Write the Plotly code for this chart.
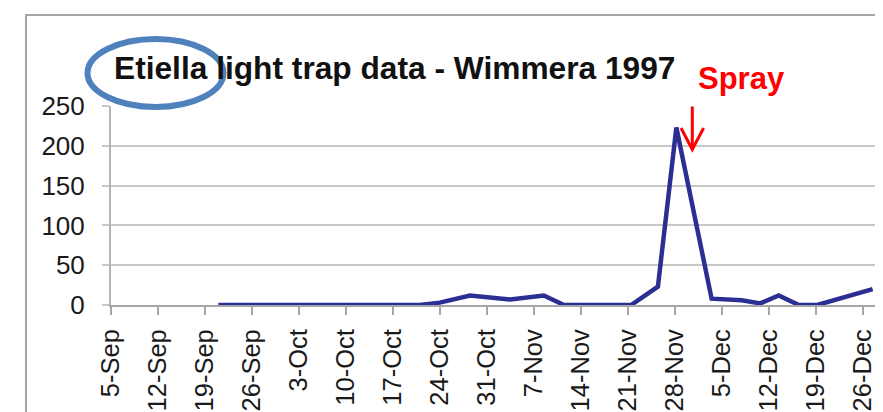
import plotly.graph_objects as go

# ---- data ----
trap_dates = ["1997-09-21", "1997-09-28", "1997-10-05", "1997-10-12", "1997-10-21",
              "1997-10-24", "1997-10-28 12:00", "1997-11-03 12:00", "1997-11-08 12:00",
              "1997-11-11 12:00", "1997-11-21 12:00", "1997-11-25 12:00", "1997-11-28 06:00",
              "1997-12-03 12:00", "1997-12-08", "1997-12-10 18:00", "1997-12-13 12:00",
              "1997-12-16 12:00", "1997-12-19 06:00", "1997-12-27 12:00"]
moth_counts = [0, 0, 0, 0, 0, 3, 12, 7, 12, 0, 0, 23, 223, 8, 6, 2, 12, 0, 0, 20]

tick_dates = ["1997-09-05", "1997-09-12", "1997-09-19", "1997-09-26", "1997-10-03",
              "1997-10-10", "1997-10-17", "1997-10-24", "1997-10-31", "1997-11-07",
              "1997-11-14", "1997-11-21", "1997-11-28", "1997-12-05", "1997-12-12",
              "1997-12-19", "1997-12-26"]
tick_labels = ["5-Sep", "12-Sep", "19-Sep", "26-Sep", "3-Oct", "10-Oct", "17-Oct",
               "24-Oct", "31-Oct", "7-Nov", "14-Nov", "21-Nov", "28-Nov", "5-Dec",
               "12-Dec", "19-Dec", "26-Dec"]

title_text = "Etiella light trap data - Wimmera 1997"
spray_text = "Spray"

# ---- layout geometry (pixels) ----
W, H = 883, 412
L, R, T, B = 103, 868, 98, 297
FONT = "Liberation Sans, Arial, sans-serif"


def px(x):
    return (x - L) / (R - L)


def py(y):
    return (B - y) / (B - T)


fig = go.Figure()
fig.add_trace(go.Scatter(
    x=trap_dates, y=moth_counts, mode="lines",
    line=dict(color="#2b2f94", width=4.5),
    hoverinfo="skip", showlegend=False,
))

fig.update_layout(
    width=W, height=H,
    margin=dict(l=L, r=W - R, t=T, b=H - B, pad=0, autoexpand=False),
    paper_bgcolor="white", plot_bgcolor="white",
    showlegend=False,
    font=dict(family=FONT, color="#1a1a1a"),
)

fig.update_xaxes(
    type="date", range=["1997-09-05", "1997-12-28"],
    tickmode="array", tickvals=tick_dates, ticktext=tick_labels,
    tickangle=-90, ticks="outside", ticklen=8, tickwidth=1.5, tickcolor="#a6a6a6",
    showline=True, linecolor="#a6a6a6", linewidth=2,
    showgrid=False, zeroline=False, automargin=False,
    tickfont=dict(family=FONT, size=25.5, color="#1a1a1a"),
    ticklabelstandoff=4,
)
fig.update_yaxes(
    range=[0, 250], dtick=50, tick0=0,
    showgrid=True, gridcolor="#c8c8c8", gridwidth=2,
    showline=True, linecolor="#b4b4b4", linewidth=2,
    ticks="outside", ticklen=7, tickwidth=2, tickcolor="#c8c8c8",
    zeroline=False, automargin=False,
    tickfont=dict(family=FONT, size=26, color="#1a1a1a"),
    ticklabelstandoff=12,
)

# title
fig.add_annotation(
    text=title_text, xref="paper", yref="paper",
    x=px(104), y=py(60), xanchor="left", yanchor="middle",
    showarrow=False,
    font=dict(family=FONT, size=31.7, color="#111111", weight="bold"),
)

# spray label
fig.add_annotation(
    text=spray_text, xref="paper", yref="paper",
    x=px(733), y=py(70), xanchor="center", yanchor="middle",
    showarrow=False,
    font=dict(family=FONT, size=31, color="#ff0000", weight="bold"),
)

# chart frame
fig.add_shape(type="rect", xref="paper", yref="paper",
              x0=px(18), x1=px(950), y0=py(480), y1=py(7),
              line=dict(color="#a6a6a6", width=2), fillcolor="rgba(0,0,0,0)",
              layer="above")

# spray arrow
fig.add_shape(type="line", xref="paper", yref="paper",
              x0=px(684.3), x1=px(684.3), y0=py(98.5), y1=py(140),
              line=dict(color="#ff0000", width=3), layer="above")
fig.add_shape(type="path", xref="paper", yref="paper",
              path=f"M {px(673)},{py(120)} L {px(684.3)},{py(141.5)} L {px(695.6)},{py(120)}",
              line=dict(color="#ff0000", width=3), layer="above")

# highlight ellipse
cx, cy, rx, ry = 147.5, 65, 68, 34
fig.add_shape(type="circle", xref="paper", yref="paper",
              x0=px(cx - rx), x1=px(cx + rx), y0=py(cy + ry), y1=py(cy - ry),
              line=dict(color="#4f81bd", width=6), fillcolor="rgba(0,0,0,0)",
              layer="above")

fig.write_html("out.html")
